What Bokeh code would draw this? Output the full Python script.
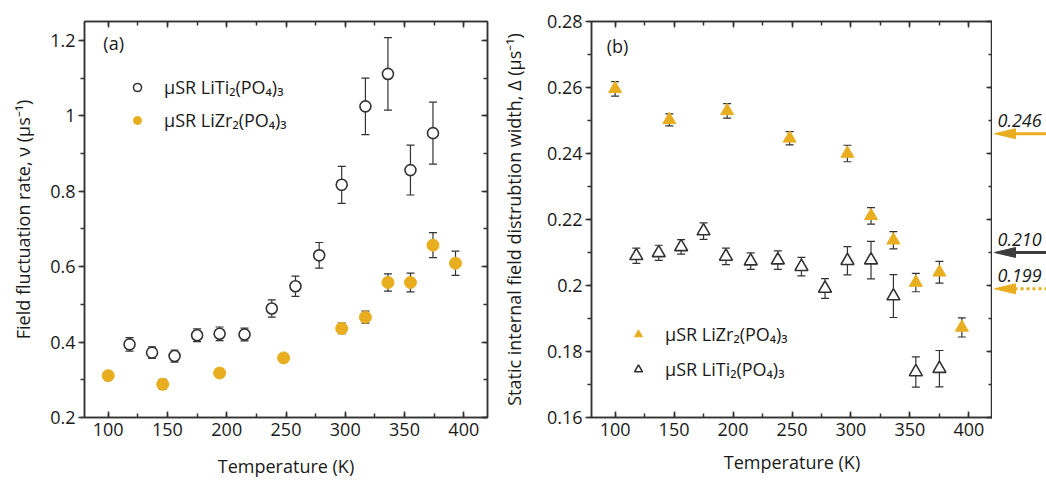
from bokeh.plotting import figure
from bokeh.models import (Range1d, LinearAxis, SingleIntervalTicker, CustomJSTickFormatter,
                          CustomLabelingPolicy, ColumnDataSource, Whisker, TeeHead, Legend,
                          LegendItem, Label)
from bokeh.layouts import row
from bokeh.core.properties import value
from bokeh.embed import file_html
from bokeh.resources import INLINE

FONT = "Open Sans"
GOLD = "#E8AE1F"
DARK = "#333333"
TEXT = "#1a1a1a"

# ---------------- data: panel (a) field fluctuation rate ----------------
temp_a_ti = [118, 137, 156, 175, 194, 215, 238, 258, 278, 297, 317, 336, 355, 374]
nu_ti = [0.394, 0.372, 0.363, 0.418, 0.422, 0.420, 0.489, 0.548, 0.630, 0.817, 1.025, 1.111, 0.856, 0.954]
nu_ti_err = [0.018, 0.015, 0.016, 0.017, 0.018, 0.017, 0.023, 0.027, 0.034, 0.049, 0.075, 0.096, 0.066, 0.082]

temp_a_zr = [100, 146, 194, 248, 297, 317, 336, 355, 374, 393]
nu_zr = [0.311, 0.288, 0.318, 0.358, 0.436, 0.466, 0.558, 0.558, 0.657, 0.609]
nu_zr_err = [0.010, 0.013, 0.010, 0.010, 0.014, 0.016, 0.023, 0.025, 0.033, 0.032]

# ---------------- data: panel (b) static field distribution width ----------------
temp_b_zr = [100, 146, 195, 248, 297, 317, 336, 355, 375, 394]
delta_zr = [0.2596, 0.2502, 0.2529, 0.2446, 0.2400, 0.2211, 0.2137, 0.2009, 0.2040, 0.1873]
delta_zr_err = [0.0022, 0.0018, 0.0022, 0.0020, 0.0025, 0.0025, 0.0026, 0.0028, 0.0033, 0.0029]

temp_b_ti = [118, 137, 156, 175, 194, 215, 238, 258, 278, 297, 317, 336, 355, 375]
delta_ti = [0.2090, 0.2099, 0.2117, 0.2165, 0.2088, 0.2074, 0.2077, 0.2057, 0.1991, 0.2075, 0.2077, 0.1968, 0.1738, 0.1748]
delta_ti_err = [0.0023, 0.0023, 0.0022, 0.0025, 0.0025, 0.0025, 0.0028, 0.0028, 0.0030, 0.0043, 0.0057, 0.0065, 0.0046, 0.0055]

# reference arrows on the right of panel (b)
arrow_values = [0.246, 0.210, 0.199]
arrow_labels = ["0.246", "0.210", "0.199"]
arrow_colors = [GOLD, "#3C3C3C", GOLD]
arrow_dashes = ["solid", "solid", "3 3"]

label_ti = "μSR LiTi₂(PO₄)₃"
label_zr = "μSR LiZr₂(PO₄)₃"
x_title = "Temperature (K)"

fmt_code = "return String(parseFloat(tick.toFixed(4)));"
no_labels = "for (const i of indices) { indices.unset(i) }\nreturn indices"


def style_axis(ax, tin, tout, show_labels):
    ax.major_tick_in = tin
    ax.major_tick_out = tout
    ax.minor_tick_in = tin // 2 + (1 if tin else 0)
    ax.minor_tick_out = tout // 2 + (1 if tout else 0)
    for a in ("axis_line", "major_tick_line", "minor_tick_line"):
        setattr(ax, a + "_color", DARK)
        setattr(ax, a + "_width", 1.5)
    if show_labels:
        ax.formatter = CustomJSTickFormatter(code=fmt_code)
        ax.major_label_text_font = FONT
        ax.major_label_text_font_size = "18px"
        ax.major_label_text_color = TEXT
        ax.axis_label_text_font = FONT
        ax.axis_label_text_font_size = "18px"
        ax.axis_label_text_font_style = "normal"
        ax.axis_label_text_color = TEXT
    else:
        ax.major_label_policy = CustomLabelingPolicy(code=no_labels)
        ax.major_label_text_font_size = "0px"
        ax.major_label_standoff = 0
        ax.axis_label = None


def make_panel(width, mb, y0, y1, yint, ylabel, ylabel_standoff, xlabel_standoff):
    p = figure(width=width, height=481, x_range=Range1d(80, 420), y_range=Range1d(y0, y1),
               output_backend="svg", toolbar_location=None,
               min_border_left=mb[0], min_border_right=mb[1], min_border_top=mb[2], min_border_bottom=mb[3])
    p.xgrid.visible = False
    p.ygrid.visible = False
    p.outline_line_color = DARK
    p.outline_line_width = 1.5
    p.background_fill_color = "white"
    p.border_fill_color = "white"
    xt = SingleIntervalTicker(interval=50, num_minor_ticks=2)
    yt = SingleIntervalTicker(interval=yint, num_minor_ticks=2)
    p.xaxis.ticker = xt
    p.yaxis.ticker = yt
    xa = p.xaxis[0]
    ya = p.yaxis[0]
    style_axis(xa, 6, 0, True)
    style_axis(ya, 0, 6, True)
    xa.axis_label = x_title
    ya.axis_label = ylabel
    xa.major_label_standoff = 5
    ya.major_label_standoff = 3
    xa.axis_label_standoff = xlabel_standoff
    ya.axis_label_standoff = ylabel_standoff
    top = LinearAxis(ticker=xt)
    right = LinearAxis(ticker=yt)
    style_axis(top, 6, 0, False)
    style_axis(right, 6, 0, False)
    p.add_layout(top, "above")
    p.add_layout(right, "right")
    return p


def add_errorbars(p, xs, ys, errs, gap_up, gap_down):
    # error bars start at the marker edge, caps drawn on top (as in the original)
    up = ColumnDataSource(dict(x=xs, lo=[v + min(gap_up, 0.5 * e) for v, e in zip(ys, errs)],
                               hi=[v + e for v, e in zip(ys, errs)]))
    dn = ColumnDataSource(dict(x=xs, lo=[v - e for v, e in zip(ys, errs)],
                               hi=[v - min(gap_down, 0.5 * e) for v, e in zip(ys, errs)]))
    p.add_layout(Whisker(source=up, base="x", lower="lo", upper="hi", dimension="height",
                         line_color=DARK, line_width=1.2, lower_head=None,
                         upper_head=TeeHead(size=8, line_color=DARK, line_width=1.2)))
    p.add_layout(Whisker(source=dn, base="x", lower="lo", upper="hi", dimension="height",
                         line_color=DARK, line_width=1.2, upper_head=None,
                         lower_head=TeeHead(size=8, line_color=DARK, line_width=1.2)))


def make_legend(items, loc, spacing):
    return Legend(items=items, location=loc, padding=0, margin=0, spacing=spacing,
                  glyph_width=20, glyph_height=24, label_height=24, label_standoff=17,
                  label_text_font=FONT, label_text_font_size="18px", label_text_color=TEXT,
                  border_line_alpha=0, background_fill_alpha=0)


# ---------------- panel (a) ----------------
ky_a = (481 - 14 - 64) / (1.25 - 0.2)
pa = make_panel(495, (84, 8, 14, 64), 0.2, 1.25, 0.2, "Field fluctuation rate, ν (μs⁻¹)", 12, 15)
r_ati = pa.scatter(temp_a_ti, nu_ti, marker="circle", size=11, fill_color="white",
                   line_color=DARK, line_width=1.6)
r_azr = pa.scatter(temp_a_zr, nu_zr, marker="circle", size=12, fill_color=GOLD, line_color=GOLD)
add_errorbars(pa, temp_a_ti, nu_ti, nu_ti_err, 5.5 / ky_a, 5.5 / ky_a)
add_errorbars(pa, temp_a_zr, nu_zr, nu_zr_err, 6 / ky_a, 6 / ky_a)
pa.add_layout(make_legend([LegendItem(label=label_ti, renderers=[r_ati]),
                           LegendItem(label=label_zr, renderers=[r_azr])], (43, 285), 9))
pa.add_layout(Label(x=104.6, y=1.192, text="(a)", text_align="center", text_baseline="middle",
                    text_font=FONT, text_font_size="18px", text_color=TEXT))

# ---------------- panel (b) ----------------
ky_b = (481 - 21 - 59) / (0.28 - 0.16)
pb = make_panel(497, (96, 0, 21, 59), 0.16, 0.28, 0.02,
                "Static internal field distrubtion width, Δ (μs⁻¹)", 18, 11)
r_bzr = pb.scatter(temp_b_zr, delta_zr, marker="triangle", size=13, fill_color=GOLD, line_color=GOLD)
r_bti = pb.scatter(temp_b_ti, delta_ti, marker="triangle", size=13, fill_color="white",
                   line_color=DARK, line_width=1.6)
add_errorbars(pb, temp_b_zr, delta_zr, delta_zr_err, 7.5 / ky_b, 3.8 / ky_b)
add_errorbars(pb, temp_b_ti, delta_ti, delta_ti_err, 7.5 / ky_b, 3.8 / ky_b)
pb.add_layout(make_legend([LegendItem(label=label_zr, renderers=[r_bzr]),
                           LegendItem(label=label_ti, renderers=[r_bti])], (37, 36), 11))
pb.add_layout(Label(x=102, y=0.2726, text="(b)", text_align="center", text_baseline="middle",
                    text_font=FONT, text_font_size="18px", text_color=TEXT))

# ---------------- arrows column ----------------
pc = figure(width=54, height=481, x_range=Range1d(0, 54), y_range=pb.y_range,
            output_backend="svg", toolbar_location=None, x_axis_type=None, y_axis_type=None,
            min_border_left=0, min_border_right=0, min_border_top=21, min_border_bottom=59)
pc.outline_line_color = None
pc.xgrid.visible = False
pc.ygrid.visible = False
pc.background_fill_color = "white"
pc.border_fill_color = "white"

tip, head_len, head_half = 2, 21, 5
for v, c, d in zip(arrow_values, arrow_colors, arrow_dashes):
    pc.segment(x0=[tip + head_len - 1], y0=[v], x1=[54], y1=[v], line_color=c, line_width=3,
               line_dash=d, line_cap="butt")
    pc.patch(x=[tip, tip + head_len, tip + head_len],
             y=[v, v + head_half / ky_b, v - head_half / ky_b], fill_color=c, line_color=c, line_width=1)
pc.text(x=[5] * len(arrow_values), y=arrow_values, text=arrow_labels, text_font=value(FONT),
        text_font_style="italic", text_font_size="18px", text_baseline="alphabetic",
        y_offset=-13, text_color=TEXT)

layout = row(pa, pb, pc)
open("out.html", "w").write(file_html(layout, INLINE))
